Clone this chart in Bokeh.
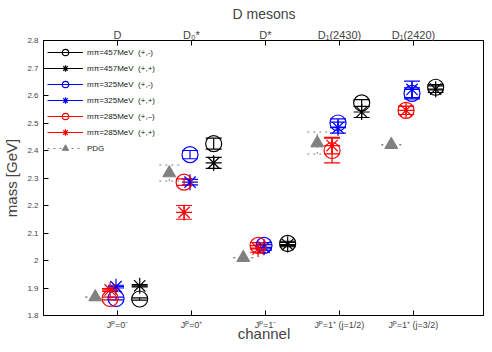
from bokeh.plotting import figure
from bokeh.models import (ColumnDataSource, Whisker, TeeHead, Legend, LegendItem,
                          LinearAxis, FixedTicker, Range1d)
from bokeh.embed import file_html
from bokeh.resources import INLINE

# ---------------- data ----------------
channels = ["J\u1D3E=0\u207B", "J\u1D3E=0\u207A", "J\u1D3E=1\u207B",
            "J\u1D3E=1\u207A (j=1/2)", "J\u1D3E=1\u207A (j=3/2)"]
states = ["D", "D\u2080*", "D*", "D\u2081(2430)", "D\u2081(2420)"]
ytick_vals = [1.8, 1.9, 2.0, 2.1, 2.2, 2.3, 2.4, 2.5, 2.6, 2.7, 2.8]
ytick_labels = ["1.8", "1.9", "2", "2.1", "2.2", "2.3", "2.4", "2.5", "2.6", "2.7", "2.8"]

m457_pm = [1.860, 2.425, 2.062, 2.573, 2.630]
m457_pm_err = [0.004, 0.020, 0.008, 0.012, 0.010]
m457_pp = [1.908, 2.355, 2.058, 2.540, 2.623]
m457_pp_err = [0.004, 0.020, 0.008, 0.020, 0.012]
m325_pm = [1.862, 2.385, 2.055, 2.500, 2.608]
m325_pm_err = [0.005, 0.015, 0.010, 0.015, 0.020]
m325_pp = [1.905, 2.285, 2.048, 2.483, 2.622]
m325_pp_err = [0.005, 0.010, 0.010, 0.020, 0.030]
m285_pm = [1.862, 2.285, 2.055, 2.400, 2.546]
m285_pm_err = [0.005, 0.012, 0.010, 0.045, 0.015]
m285_pp = [1.893, 2.175, 2.042, 2.418, 2.546]
m285_pp_err = [0.005, 0.025, 0.012, 0.030, 0.015]
pdg = [1.867, 2.318, 2.010, 2.427, 2.421]
pdg_err = [0.0005, 0.029, 0.0001, 0.040, 0.001]

FONT = "Liberation Sans"

p = figure(width=484, height=344, output_backend="svg", toolbar_location=None,
           x_range=Range1d(-1, 4.96), y_range=Range1d(1.8, 2.8),
           min_border_left=37, min_border_right=0, min_border_top=0, min_border_bottom=0,
           x_axis_label="channel", y_axis_label="mass [GeV]", title="D mesons")
p.grid.visible = False
p.outline_line_color = "black"
p.outline_line_width = 1
p.background_fill_color = "white"
p.border_fill_color = "white"

p.title.align = "center"
p.title.text_font = FONT
p.title.text_font_size = "14px"
p.title.text_font_style = "normal"
p.title.standoff = 7
p.title.offset = 0

idx = list(range(len(channels)))


def style_axis(ax, size):
    ax.major_tick_in = 5
    ax.major_tick_out = 0
    ax.minor_tick_line_color = None
    ax.axis_line_color = "black"
    ax.major_label_text_font = FONT
    ax.major_label_text_font_size = size
    ax.axis_label_text_font = FONT
    ax.axis_label_text_font_size = "15px"
    ax.axis_label_text_font_style = "normal"


xa = p.xaxis[0]
xa.ticker = FixedTicker(ticks=idx)
xa.major_label_overrides = {i: c for i, c in zip(idx, channels)}
style_axis(xa, "9px")
xa.major_label_standoff = 4
xa.axis_label_standoff = -8
xa.axis_label_text_line_height = 0.8
xa.major_label_text_line_height = 1.0

ya = p.yaxis[0]
ya.ticker = FixedTicker(ticks=ytick_vals)
ya.major_label_overrides = {v: l for v, l in zip(ytick_vals, ytick_labels)}
style_axis(ya, "8px")
ya.major_label_standoff = 5
ya.axis_label_standoff = 4

top = LinearAxis(ticker=FixedTicker(ticks=idx),
                 major_label_overrides={i: s for i, s in zip(idx, states)})
style_axis(top, "11px")
top.major_label_standoff = 0
p.add_layout(top, "above")

series = [
    (m457_pm, m457_pm_err, 0.30, "circle", "black", "m\u03C0=457MeV  (+,-)"),
    (m457_pp, m457_pp_err, 0.30, "asterisk", "black", "m\u03C0=457MeV  (+,+)"),
    (m325_pm, m325_pm_err, -0.02, "circle", "blue", "m\u03C0=325MeV  (+,-)"),
    (m325_pp, m325_pp_err, -0.02, "asterisk", "blue", "m\u03C0=325MeV  (+,+)"),
    (m285_pm, m285_pm_err, -0.10, "circle", "red", "m\u03C0=285MeV  (+,\u2013)"),
    (m285_pp, m285_pp_err, -0.10, "asterisk", "red", "m\u03C0=285MeV  (+,+)"),
]

items = []
for vals, errs, off, marker, color, label in series:
    src = ColumnDataSource(dict(
        x=[i + off for i in idx], y=vals,
        lo=[v - e for v, e in zip(vals, errs)],
        hi=[v + e for v, e in zip(vals, errs)]))
    seg = p.segment(x0="x", y0="lo", x1="x", y1="hi", source=src,
                    line_color=color, line_width=1.2)
    p.add_layout(Whisker(source=src, base="x", upper="hi", lower="lo", line_alpha=0,
                         upper_head=TeeHead(size=16, line_color=color, line_width=1.2),
                         lower_head=TeeHead(size=16, line_color=color, line_width=1.2)))
    sc = p.scatter(x="x", y="y", source=src, marker=marker, size=16,
                   line_color=color, fill_color=None, line_width=1.2)
    items.append(LegendItem(label=label, renderers=[seg, sc]))

psrc = ColumnDataSource(dict(
    x=[i - 0.30 for i in idx], y=pdg,
    lo=[v - e for v, e in zip(pdg, pdg_err)],
    hi=[v + e for v, e in zip(pdg, pdg_err)]))
pseg = p.segment(x0="x", y0="lo", x1="x", y1="hi", source=psrc,
                 line_color="#808080", line_width=1, line_dash="dotted")
p.add_layout(Whisker(source=psrc, base="x", upper="hi", lower="lo", line_alpha=0,
                     upper_head=TeeHead(size=20, line_color="#808080", line_width=1, line_dash="dotted"),
                     lower_head=TeeHead(size=20, line_color="#808080", line_width=1, line_dash="dotted")))
psc = p.scatter(x="x", y="y", source=psrc, marker="triangle", size=13,
                line_color="#808080", fill_color="#808080")
items.append(LegendItem(label="PDG", renderers=[pseg, psc]))

legend = Legend(items=items, location="top_left", border_line_alpha=0,
                background_fill_alpha=0, label_text_font=FONT,
                label_text_font_size="8px", label_text_color="#222222",
                glyph_width=36, glyph_height=16,
                label_height=16, spacing=0, padding=0, margin=4,
                label_standoff=4)
p.add_layout(legend)

open("out.html", "w").write(file_html(p, INLINE))
